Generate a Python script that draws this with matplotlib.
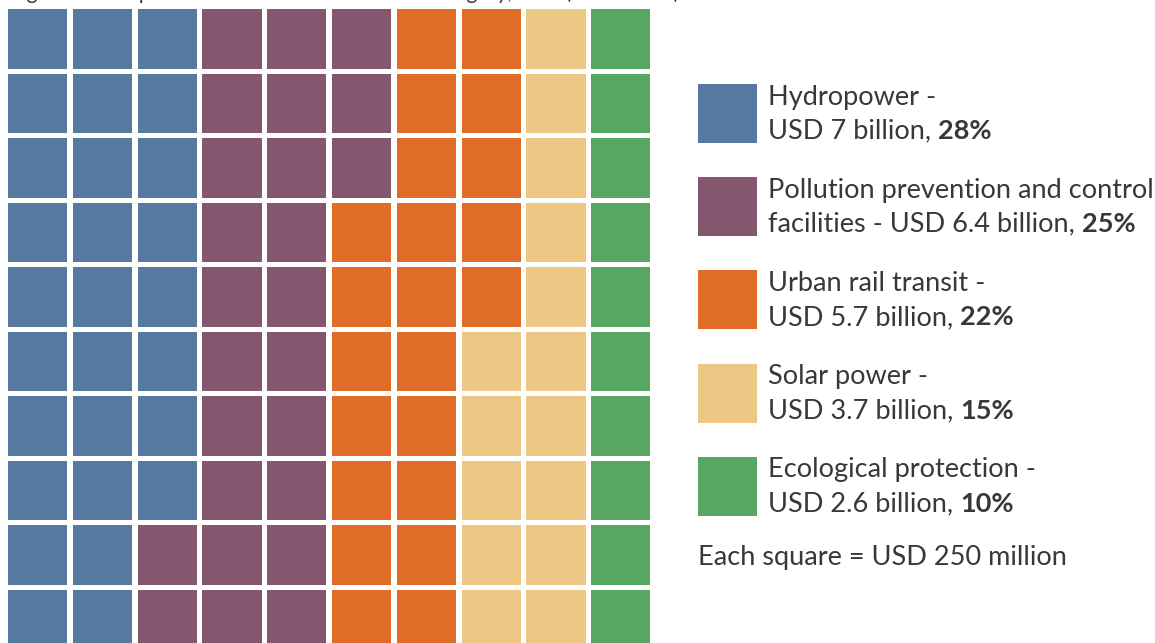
import numpy as np
import matplotlib.pyplot as plt
from matplotlib.patches import Rectangle

plt.rcParams['font.family'] = ['Lato', 'DejaVu Sans']

categories = ['Hydropower', 'Pollution prevention and control\nfacilities',
              'Urban rail transit', 'Solar power', 'Ecological protection']
values_bn = ['7', '6.4', '5.7', '3.7', '2.6']
shares = [28, 25, 22, 15, 10]   # one square per percent (USD 250 million)
colors = ['#5679a0', '#83586f', '#e06c28', '#ecc884', '#58a663']

n_rows, n_cols = 10, 10
text_color = '#383838'

W, H = 1155, 643
fig = plt.figure(figsize=(W / 100, H / 100), dpi=100)

# waffle grid, one data unit per cell
x0, y0 = 8, 9.3
pitch_x, pitch_y = 64.8, 64.5
ax = fig.add_axes([x0 / W, (H - y0 - n_rows * pitch_y) / H,
                   n_cols * pitch_x / W, n_rows * pitch_y / H])
ax.set_xlim(0, n_cols)
ax.set_ylim(n_rows, 0)
ax.axis('off')

cells = np.repeat(np.arange(len(shares)), shares)
size = 0.915
for k, c in enumerate(cells):
    col, row = divmod(k, n_rows)
    ax.add_patch(Rectangle((col, row), size, size * pitch_x / pitch_y,
                           facecolor=colors[c], edgecolor='none'))

# legend + text in pixel coordinates
lax = fig.add_axes([0, 0, 1, 1])
lax.set_xlim(0, W)
lax.set_ylim(H, 0)
lax.axis('off')

# title sits above the visible area, only its descenders show
lax.text(10, -1, 'Figure 6: Completed investment value across category, total (USD billion)',
         fontsize=15, color=text_color, va='baseline')

fig.canvas.draw()
renderer = fig.canvas.get_renderer()
fs = 19.5
for i, (cat, val, pct, col) in enumerate(zip(categories, values_bn, shares, colors)):
    top = 84 + i * 93.2
    lax.add_patch(Rectangle((698, top), 59, 59, facecolor=col, edgecolor='none'))
    lines = cat.split('\n')
    if len(lines) == 1:
        l1, l2 = cat + ' -', f'USD {val} billion, '
    else:
        l1, l2 = lines[0], f'{lines[1]} - USD {val} billion, '
    lax.text(768, top + 13, l1, fontsize=fs, color=text_color, va='center')
    t2 = lax.text(768, top + 47, l2, fontsize=fs, color=text_color, va='center')
    bb = t2.get_window_extent(renderer)
    x_end = lax.transData.inverted().transform((bb.x1, 0))[0]
    lax.text(x_end, top + 47, f'{pct}%', fontsize=fs, color=text_color,
             va='center', fontweight='bold')

lax.text(698, 558, 'Each square = USD 250 million', fontsize=fs,
         color=text_color, va='center')

fig.savefig('out.png', dpi=100)
